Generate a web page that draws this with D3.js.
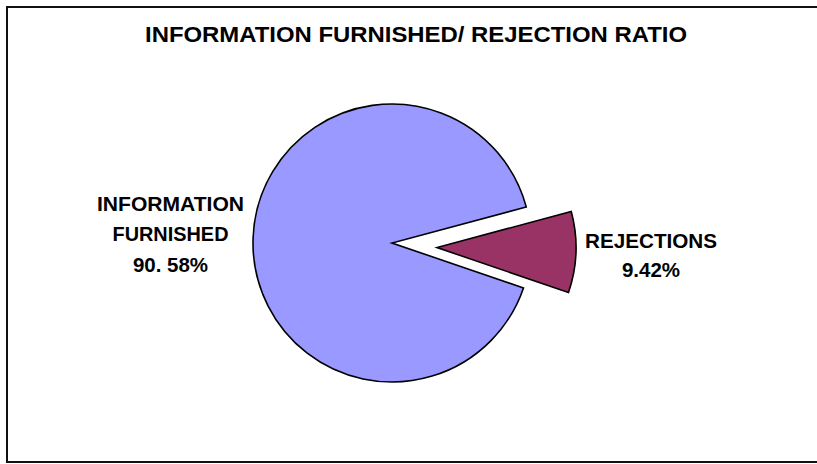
<!DOCTYPE html>
<html>
<head>
<meta charset="utf-8">
<script src="https://cdn.jsdelivr.net/npm/d3@7"></script>
<style>
  html, body { margin: 0; padding: 0; background: #fff; }
  svg { display: block; }
  text { font-family: Arial, "Liberation Sans", sans-serif; font-weight: bold; fill: #000; }
</style>
</head>
<body>
<svg id="chart" width="817" height="464"></svg>
<script>
const categories = ["INFORMATION FURNISHED", "REJECTIONS"];
const values = [90.58, 9.42];
const labelLines = [["INFORMATION", "FURNISHED", "90. 58%"], ["REJECTIONS", "9.42%"]];
const colors = ["#9999FF", "#993366"];
const explode = [0, 45];
const titleText = "INFORMATION FURNISHED/ REJECTION RATIO";

const svg = d3.select("#chart");

// frame
svg.append("rect")
  .attr("x", 7).attr("y", 7)
  .attr("width", 820).attr("height", 455)
  .attr("fill", "#fff")
  .attr("stroke", "#111").attr("stroke-width", 2);

// title
svg.append("text")
  .attr("x", 416).attr("y", 42)
  .attr("text-anchor", "middle")
  .attr("font-size", 22)
  .attr("textLength", 542).attr("lengthAdjust", "spacingAndGlyphs")
  .text(titleText);

const cx = 392, cy = 243, r = 139;
const start = 108.9 * Math.PI / 180;
const pie = d3.pie().sort(null).startAngle(start).endAngle(start + 2 * Math.PI);
const arcs = pie(values);
const arc = d3.arc().innerRadius(0).outerRadius(r);

const g = svg.append("g").attr("transform", `translate(${cx},${cy})`);
g.selectAll("path.slice")
  .data(arcs)
  .join("path")
  .attr("class", "slice")
  .attr("transform", (d, i) => {
    const a = (d.startAngle + d.endAngle) / 2;
    return `translate(${explode[i] * Math.sin(a)},${-explode[i] * Math.cos(a) + (i === 1 ? 3 : 0)})`;
  })
  .attr("d", arc)
  .attr("fill", (d, i) => colors[i])
  .attr("stroke", "#000")
  .attr("stroke-width", 1.6)
  .attr("stroke-linejoin", "miter");

// labels
const labelPos = [
  { x: 170.5, y: 210.5, dy: 30.5, widths: [147, 116, 0] },
  { x: 651, y: 247.5, dy: 29.5, widths: [132, 0] }
];
labelLines.forEach((lines, i) => {
  const p = labelPos[i];
  lines.forEach((t, j) => {
    const tx = svg.append("text")
      .attr("x", p.x).attr("y", p.y + j * p.dy)
      .attr("text-anchor", "middle")
      .attr("font-size", 20.5)
      .text(t);
    if (p.widths[j]) tx.attr("textLength", p.widths[j]).attr("lengthAdjust", "spacingAndGlyphs");
  });
});
</script>
</body>
</html>
